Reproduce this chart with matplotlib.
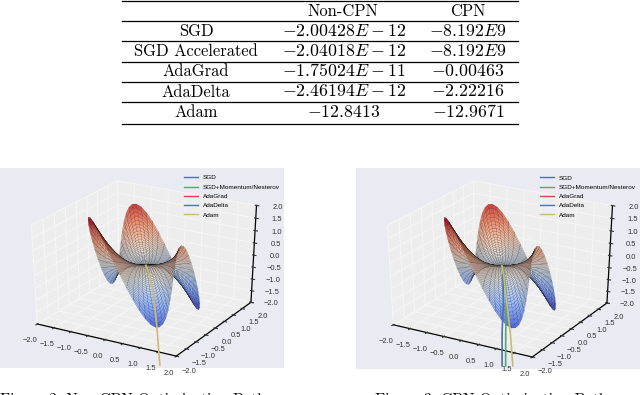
import numpy as np
import matplotlib
matplotlib.use("Agg")
import matplotlib.pyplot as plt
from matplotlib.lines import Line2D

# table
row_names = ["SGD", "SGD Accelerated", "AdaGrad", "AdaDelta", "Adam"]
non_cpn = ["$-2.00428E-12$", "$-2.04018E-12$", "$-1.75024E-11$", "$-2.46194E-12$", "$-12.8413$"]
cpn = ["$-8.192E9$", "$-8.192E9$", "$-0.00463$", "$-2.22216$", "$-12.9671$"]

# surface read as rings: radius and lobe height of each ring
ring_r = [0.0, 0.03, 0.06, 0.09, 0.12, 0.15, 0.18, 0.21, 0.24, 0.27, 0.30, 0.33, 0.36, 0.39,
          0.42, 0.45, 0.48, 0.51, 0.54, 0.57, 0.60, 0.63, 0.66, 0.69, 0.72, 0.75, 0.78, 0.81,
          0.84, 0.87, 0.90, 0.93, 0.96, 0.99, 1.02, 1.05, 1.08, 1.11, 1.14, 1.17, 1.20, 1.23, 1.26]
ring_h = [0.0, 0.00003, 0.0002, 0.0007, 0.0017, 0.0034, 0.0058, 0.0093, 0.0138, 0.0197, 0.027,
          0.0359, 0.0467, 0.0593, 0.0741, 0.0911, 0.1106, 0.1327, 0.1575, 0.1852, 0.216, 0.25,
          0.2875, 0.3285, 0.3732, 0.4219, 0.4746, 0.5314, 0.5927, 0.6585, 0.729, 0.8044, 0.8847,
          0.9703, 1.0612, 1.1576, 1.2597, 1.3676, 1.4815, 1.6016, 1.728, 1.8609, 2.0]
# one lobe period, every 5 degrees, repeated three times round the circle
lobe = [1.0, 0.966, 0.866, 0.707, 0.5, 0.259, 0.0, -0.259, -0.5, -0.707, -0.866, -0.966,
        -1.0, -0.966, -0.866, -0.707, -0.5, -0.259, 0.0, 0.259, 0.5, 0.707, 0.866, 0.966]
# how the seen surface leans: rim tilt, lobe height and sideways shear
tilt_x, tilt_y = -1.01, 0.50
lobe_gain = 1.72
shear = -0.236
edge_on = 0.6875

# optimizer paths
adam_x = [0.0, 0.07, 0.17, 0.25, 0.32]
adam_y = [0.0, 0.04, 0.10, 0.145, 0.185]
adam_z = [0.0, -0.35, -1.17, -2.7, -4.3]

sgd_x = [0.0, 0.02, 0.035, 0.006, 0.006]
sgd_y = [0.0, 0.012, 0.02, 0.004, 0.004]
sgd_z = [0.0, -0.2, -1.45, -2.8, -4.3]

mom_x = [0.0, 0.035, 0.10, 0.087, 0.087]
mom_y = [0.0, 0.02, 0.06, 0.05, 0.05]
mom_z = [0.0, -0.1, -1.17, -2.8, -4.3]

cpn_adam_x = [0.0, 0.04, 0.087, 0.19, 0.25]
cpn_adam_y = [0.0, 0.02, 0.05, 0.11, 0.145]
cpn_adam_z = [0.0, -0.35, -1.17, -2.83, -4.3]

ticks = [-2.0, -1.5, -1.0, -0.5, 0.0, 0.5, 1.0, 1.5, 2.0]
names = ["SGD", "SGD+Momentum/Nesterov", "AdaGrad", "AdaDelta", "Adam"]
colors = ["#4C72B0", "#55A868", "#C44E52", "#4C72B0", "#CCB974"]

plt.rcParams["mathtext.fontset"] = "cm"
plt.rcParams["font.family"] = ["Liberation Sans", "DejaVu Sans"]
W, H = 640, 395
fig = plt.figure(figsize=(6.4, 3.95), dpi=100)


def saddle(ax):
    theta = np.radians(np.arange(0, 365, 5))
    r = np.array(ring_r)
    h = np.array(ring_h) / 2
    ux, uy = np.cos(np.radians(30)), np.sin(np.radians(30))
    fx, fy = np.cos(np.radians(-60)), np.sin(np.radians(-60))
    waves = np.outer(h, lobe * 3 + lobe[:1])
    X = np.outer(r, np.cos(theta)) + shear * ux * waves
    Y = np.outer(r, np.sin(theta)) + shear * uy * waves
    Z = (edge_on * (X * fx + Y * fy)
         + np.outer(h, tilt_x * np.cos(theta) + tilt_y * np.sin(theta))
         + lobe_gain * waves)
    ax.plot_surface(X, Y, Z, cmap="coolwarm", vmin=-2, vmax=2, rstride=1, cstride=1,
                    edgecolor=(0, 0, 0, 0.8), linewidth=0.12, shade=False, zorder=1)


def setup(ax):
    ax.apply_aspect = lambda position=None: None  # stretch to the panel like old mplot3d
    ax.set_facecolor("#EAEAF2")
    ax.set_xlim(-2, 2)
    ax.set_ylim(-2, 2)
    ax.set_zlim(-2, 2)
    ax.set_xticks(ticks)
    ax.set_yticks(ticks)
    ax.set_zticks(ticks)
    ax.view_init(elev=30, azim=-60)
    ax.set_box_aspect((1, 1, 1), zoom=0.95)
    ax.tick_params(labelsize=5.4, colors="#333333", pad=0, length=2.5)
    ax.tick_params(axis="z", pad=1)
    for a in [ax.xaxis, ax.yaxis, ax.zaxis]:
        a.set_pane_color((0.93, 0.93, 0.93, 1.0))
        a.line.set_color("k")
        a.line.set_linewidth(0.9)
        a._axinfo["grid"]["color"] = "#F5F5F5"
        a._axinfo["grid"]["linewidth"] = 0.8
    handles = [Line2D([], [], color=c, lw=1.0) for c in colors]
    ax.legend(handles, names, loc="upper right", frameon=False, fontsize=4.6,
              bbox_to_anchor=(0.985, 0.965), borderpad=0, borderaxespad=0,
              labelspacing=0.6, handlelength=2.1, handletextpad=0.8)


# left panel
ax1 = fig.add_axes([0 / W, 1 - 368 / H, 284 / W, 200 / H], projection="3d")
setup(ax1)
saddle(ax1)
ax1.plot(adam_x, adam_y, adam_z, color=colors[4], lw=1.2, zorder=5)

# right panel
ax2 = fig.add_axes([356 / W, 1 - 369 / H, 284 / W, 201 / H], projection="3d")
setup(ax2)
saddle(ax2)
ax2.plot(sgd_x, sgd_y, sgd_z, color=colors[0], lw=1.2, zorder=5)
ax2.plot(mom_x, mom_y, mom_z, color=colors[1], lw=1.2, zorder=6)
ax2.plot(cpn_adam_x, cpn_adam_y, cpn_adam_z, color=colors[4], lw=1.2, zorder=7)

# table on top
for y in [1, 21, 41, 62, 82, 102, 124]:
    fig.add_artist(Line2D([122 / W, 518 / W], [1 - y / H, 1 - y / H], color="k", lw=0.9))
fs = 11.9
fs_math = 12.8
fig.text(343 / W, 1 - 11 / H, "Non-CPN", family="cmr10", fontsize=fs, ha="center", va="center")
fig.text(468 / W, 1 - 11 / H, "CPN", family="cmr10", fontsize=fs, ha="center", va="center")
for i in range(5):
    y = 1 - (31 + i * 20.3) / H
    fig.text(196 / W, y, row_names[i], family="cmr10", fontsize=fs, ha="center", va="center")
    fig.text(344 / W, y, non_cpn[i], fontsize=fs_math, ha="center", va="center")
    fig.text(468 / W, y, cpn[i], fontsize=fs_math, ha="center", va="center")

# captions, cut by the page edge
fig.text(0 / W, 1 - 393 / H, "Figure 2: Non-CPN Optimization Path", family="cmr10", fontsize=11.2, va="top")
fig.text(375 / W, 1 - 393 / H, "Figure 3: CPN Optimization Path", family="cmr10", fontsize=11.2, va="top")

fig.savefig("out.png", dpi=100)
